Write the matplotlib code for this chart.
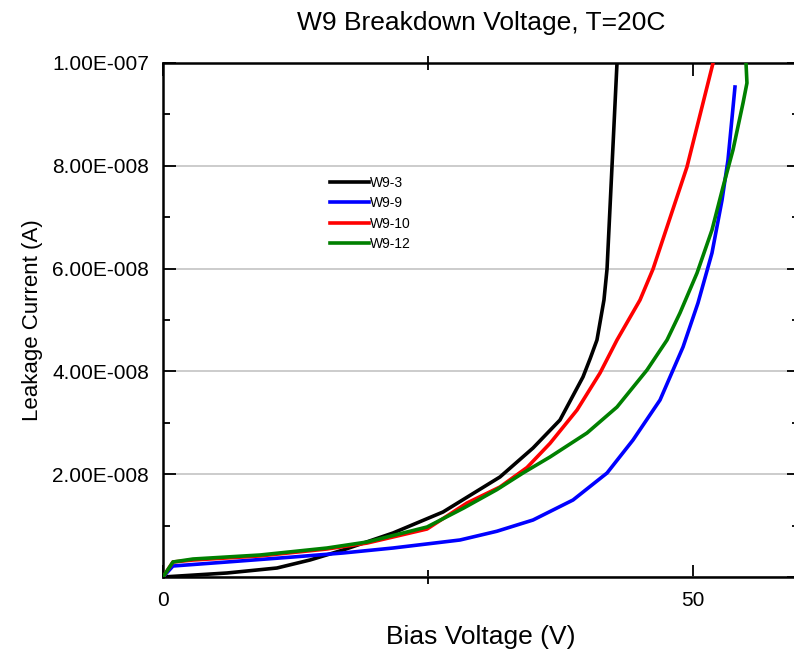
import matplotlib
matplotlib.use("Agg")
import matplotlib.pyplot as plt
from matplotlib.ticker import MultipleLocator, FuncFormatter

# Kennlinien: Spannung (V), Strom (nA)
w9_3_v = [0, 6.04, 10.75, 13.87, 16.98, 21.70, 26.42, 31.79, 34.91, 37.45, 39.62, 40.3, 40.94, 41.60, 41.89, 42.36, 42.83]
w9_3_i = [0, 0.78, 1.75, 3.31, 5.25, 8.56, 12.65, 19.46, 25.10, 30.54, 38.91, 42.5, 46.11, 53.89, 59.92, 79.96, 100]

w9_9_v = [0, 0.94, 6.04, 12.26, 16.98, 21.70, 28.02, 31.5, 34.91, 38.68, 41.89, 44.34, 46.89, 49.06, 50.47, 51.79, 52.74, 53.30, 53.96]
w9_9_i = [0, 2.14, 2.92, 3.89, 4.67, 5.64, 7.20, 8.9, 11.09, 14.98, 20.23, 26.65, 34.44, 44.75, 53.31, 63.03, 73.35, 81.13, 95.33]

w9_10_v = [0, 0.94, 2.83, 9.15, 15.47, 19.25, 24.91, 28.68, 31.79, 34.34, 36.51, 39.06, 41.23, 42.83, 45.0, 46.23, 49.43, 51.89]
w9_10_i = [0, 2.92, 3.30, 4.10, 5.45, 6.60, 9.34, 14.4, 17.51, 21.3, 26.0, 32.49, 39.69, 46.11, 53.89, 59.92, 79.77, 100]

w9_12_v = [0, 0.94, 2.83, 9.15, 15.47, 19.25, 24.91, 28.35, 31.5, 33.96, 36.51, 40.0, 42.83, 45.66, 47.55,
           48.77, 50.38, 51.79, 52.83, 53.77, 54.72, 55.09, 55.0]
w9_12_i = [0, 2.92, 3.50, 4.28, 5.64, 6.81, 9.73, 13.4, 17.0, 20.23, 23.35, 28.02, 33.07, 40.27, 46.11,
           51.36, 59.14, 67.51, 75.87, 83.07, 92.22, 96.11, 100]

series = [
    ("W9-3", w9_3_v, w9_3_i, "#000000"),
    ("W9-9", w9_9_v, w9_9_i, "#0000ff"),
    ("W9-10", w9_10_v, w9_10_i, "#ff0000"),
    ("W9-12", w9_12_v, w9_12_i, "#008000"),
]

plt.rcParams["font.family"] = ["Liberation Sans", "DejaVu Sans"]

W, H = 794, 657
fig = plt.figure(figsize=(W / 100, H / 100), dpi=100, facecolor="white")
ax = fig.add_axes([163 / W, 1 - 577 / H, 636 / W, 514 / H])

for name, v, i, col in series:
    ax.plot(v, [x * 1e-9 for x in i], color=col, linewidth=2.6, label=name, zorder=3,
            solid_joinstyle="round")

ax.set_xlim(0, 60)
ax.set_ylim(0, 1e-7)

ax.xaxis.set_major_locator(MultipleLocator(50))
ax.xaxis.set_minor_locator(MultipleLocator(25))
ax.yaxis.set_major_locator(MultipleLocator(2e-8))
ax.yaxis.set_minor_locator(MultipleLocator(1e-8))


def sci_fmt(y, pos):
    if abs(y) < 1e-12:
        return ""
    m, e = f"{y:.2E}".split("E")
    sign = "-" if e.startswith("-") else ""
    return f"{m}E{sign}{int(e.lstrip('+-')):03d}"


ax.yaxis.set_major_formatter(FuncFormatter(sci_fmt))
ax.xaxis.set_major_formatter(FuncFormatter(lambda x, p: f"{x:.0f}"))

ax.tick_params(which="major", direction="in", length=9, width=1.3, labelsize=15,
               top=True, right=True, pad=10)
ax.tick_params(which="minor", direction="in", length=5, width=1.3, top=True, right=True)
ax.tick_params(axis="x", which="minor", direction="inout", length=10)

ax.grid(True, axis="y", which="major", color="#c4c4c4", linewidth=1.2)
ax.set_axisbelow(True)
for sp in ax.spines.values():
    sp.set_linewidth(1.8)

ax.set_title("W9 Breakdown Voltage, T=20C", fontsize=19, pad=24)
ax.set_xlabel("Bias Voltage (V)", fontsize=19, labelpad=11)
ax.set_ylabel("Leakage Current (A)", fontsize=16, labelpad=7)

ax.legend(loc="upper left", bbox_to_anchor=((330 - 163) / 636, (577 - 176) / 514),
          frameon=False, fontsize=10, handlelength=2.8, handletextpad=0.1,
          labelspacing=0.45, borderpad=0, borderaxespad=0)

fig.savefig("out.png", dpi=100, facecolor="white")
